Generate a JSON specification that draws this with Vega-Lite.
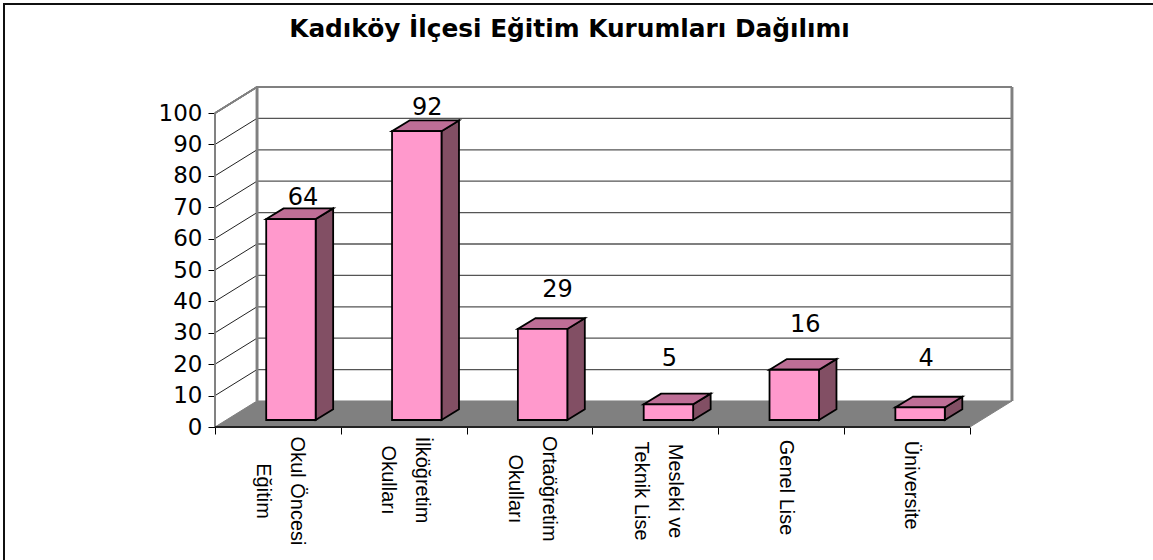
{
"$schema":"https://vega.github.io/schema/vega-lite/v6.json",
"width":797,"height":340,"autosize":"none",
"padding":{"left":215,"top":87,"right":141,"bottom":133},
"background":"white",
"view":{"stroke":null},
"config":{"axis":{"grid":false,"domain":false,"title":null,"tickColor":"black","tickSize":7,"tickWidth":1},
 "axisX":{"labels":false},
 "axisY":{"labelFont":"DejaVu Sans","labelFontSize":23,"labelColor":"black","labelPadding":6}},
"title":{"text":"Kadıköy İlçesi Eğitim Kurumları Dağılımı","font":"DejaVu Sans","fontWeight":"bold","fontSize":24.8,"color":"black","anchor":"middle","frame":"group","dx":-44,"offset":-63,"baseline":"bottom"},
"datasets":{
"bars":[
{"category":"Okul Öncesi\nEğitim","value":64,"i":0},
{"category":"İlköğretim\nOkulları","value":92,"i":1},
{"category":"Ortaöğretim\nOkulları","value":29,"i":2},
{"category":"Mesleki ve\nTeknik Lise","value":5,"i":3},
{"category":"Genel Lise","value":16,"i":4},
{"category":"Üniversite","value":4,"i":5}],
"ticks":[{"tick":10},{"tick":20},{"tick":30},{"tick":40},{"tick":50},{"tick":60},{"tick":70},{"tick":80},{"tick":90}],
"ends":[{"t":0},{"t":1}]
},
"data":{"name":"bars"},
"layer":[
{"mark":{"type":"rect","fill":null,"stroke":"#111","strokeWidth":1.5},
 "encoding":{"x":{"datum":-1.677,"type":"quantitative","scale":{"domain":[0,6.334],"nice":false,"zero":false},"axis":{"title":null,"values":[0,1,2,3,4,5,6]}},
   "x2":{"datum":7.6},
   "y":{"datum":134.7,"type":"quantitative","scale":{"domain":[0,108.29],"nice":false,"zero":false},"axis":{"title":null,"values":[0,10,20,30,40,50,60,70,80,90,100]}},
   "y2":{"datum":-50}}},
{"data":{"name":"ends"},
 "transform":[{"calculate":"datum.t*8.29","as":"fy"},{"calculate":"datum.t*0.3339","as":"fx"},{"calculate":"6+datum.t*0.3339","as":"fx2"}],
 "mark":{"type":"area","orient":"horizontal","fill":"#808080","stroke":"#808080"},
 "encoding":{"y":{"field":"fy","type":"quantitative","axis":{"title":null,"values":[0,10,20,30,40,50,60,70,80,90,100]},"scale":{"domain":[0,108.29],"nice":false,"zero":false}},
  "x":{"field":"fx","type":"quantitative","axis":{"title":null,"values":[0,1,2,3,4,5,6]},"scale":{"domain":[0,6.334],"nice":false,"zero":false}},"x2":{"field":"fx2"}}},
{"data":{"name":"ticks"},"transform":[{"calculate":"datum.tick+8.29","as":"yb"}],
 "mark":{"type":"rule","color":"#555","strokeWidth":1.3},
 "encoding":{"x":{"datum":0.3339,"type":"quantitative","axis":{"title":null,"values":[0,1,2,3,4,5,6]},"scale":{"domain":[0,6.334],"nice":false,"zero":false}},"x2":{"datum":6.3339},
  "y":{"field":"yb","type":"quantitative","axis":{"title":null,"values":[0,10,20,30,40,50,60,70,80,90,100]},"scale":{"domain":[0,108.29],"nice":false,"zero":false}}}},
{"data":{"name":"ticks"},"transform":[{"calculate":"datum.tick+8.29","as":"yb"}],
 "mark":{"type":"rule","color":"#222","strokeWidth":1},
 "encoding":{"x":{"datum":0,"type":"quantitative","axis":{"title":null,"values":[0,1,2,3,4,5,6]},"scale":{"domain":[0,6.334],"nice":false,"zero":false}},"x2":{"datum":0.3339},
  "y":{"field":"tick","type":"quantitative","axis":{"title":null,"values":[0,10,20,30,40,50,60,70,80,90,100]},"scale":{"domain":[0,108.29],"nice":false,"zero":false}},"y2":{"field":"yb"}}},
{"mark":{"type":"rule","color":"#808080","strokeWidth":2.2},
 "encoding":{"x":{"datum":0.3339,"type":"quantitative","axis":{"title":null,"values":[0,1,2,3,4,5,6]},"scale":{"domain":[0,6.334],"nice":false,"zero":false}},
  "y":{"datum":8.29,"type":"quantitative","axis":{"title":null,"values":[0,10,20,30,40,50,60,70,80,90,100]},"scale":{"domain":[0,108.29],"nice":false,"zero":false}},"y2":{"datum":108.29}}},
{"mark":{"type":"rule","color":"#808080","strokeWidth":2.2},
 "encoding":{"x":{"datum":6.3339,"type":"quantitative","axis":{"title":null,"values":[0,1,2,3,4,5,6]},"scale":{"domain":[0,6.334],"nice":false,"zero":false}},
  "y":{"datum":8.29,"type":"quantitative","axis":{"title":null,"values":[0,10,20,30,40,50,60,70,80,90,100]},"scale":{"domain":[0,108.29],"nice":false,"zero":false}},"y2":{"datum":108.29}}},
{"mark":{"type":"rule","color":"#808080","strokeWidth":2.2},
 "encoding":{"x":{"datum":0.3339,"type":"quantitative","axis":{"title":null,"values":[0,1,2,3,4,5,6]},"scale":{"domain":[0,6.334],"nice":false,"zero":false}},"x2":{"datum":6.3339},
  "y":{"datum":108.29,"type":"quantitative","axis":{"title":null,"values":[0,10,20,30,40,50,60,70,80,90,100]},"scale":{"domain":[0,108.29],"nice":false,"zero":false}}}},
{"mark":{"type":"rule","color":"#808080","strokeWidth":1.5},
 "encoding":{"x":{"datum":0,"type":"quantitative","axis":{"title":null,"values":[0,1,2,3,4,5,6]},"scale":{"domain":[0,6.334],"nice":false,"zero":false}},"x2":{"datum":0.3339},
  "y":{"datum":100,"type":"quantitative","axis":{"title":null,"values":[0,10,20,30,40,50,60,70,80,90,100]},"scale":{"domain":[0,108.29],"nice":false,"zero":false}},"y2":{"datum":108.29}}},
{"mark":{"type":"rule","color":"#808080","strokeWidth":1},
 "encoding":{"x":{"datum":0,"type":"quantitative","axis":{"title":null,"values":[0,1,2,3,4,5,6]},"scale":{"domain":[0,6.334],"nice":false,"zero":false}},
  "y":{"datum":0,"type":"quantitative","axis":{"title":null,"values":[0,10,20,30,40,50,60,70,80,90,100]},"scale":{"domain":[0,108.29],"nice":false,"zero":false}},"y2":{"datum":100}}},
{"mark":{"type":"rule","color":"#222","strokeWidth":1.2},
 "encoding":{"x":{"datum":0,"type":"quantitative","axis":{"title":null,"values":[0,1,2,3,4,5,6]},"scale":{"domain":[0,6.334],"nice":false,"zero":false}},"x2":{"datum":6},
  "y":{"datum":0,"type":"quantitative","axis":{"title":null,"values":[0,10,20,30,40,50,60,70,80,90,100]},"scale":{"domain":[0,108.29],"nice":false,"zero":false}}}},
{"transform":[{"calculate":"[0,1]","as":"t"},{"flatten":["t"]},
  {"calculate":"datum.i+0.407+0.393+datum.t*0.139","as":"sx"},
  {"calculate":"2.23+datum.t*3.4","as":"sy"},
  {"calculate":"2.23+datum.value+datum.t*3.4","as":"sy2"}],
 "mark":{"type":"area","orient":"vertical","fill":"#824F64","stroke":"black","strokeWidth":1.8,"strokeJoin":"miter"},
 "encoding":{"detail":{"field":"i"},
  "x":{"field":"sx","type":"quantitative","axis":{"title":null,"values":[0,1,2,3,4,5,6]},"scale":{"domain":[0,6.334],"nice":false,"zero":false}},
  "y":{"field":"sy","type":"quantitative","axis":{"title":null,"values":[0,10,20,30,40,50,60,70,80,90,100]},"scale":{"domain":[0,108.29],"nice":false,"zero":false}},"y2":{"field":"sy2"}}},
{"transform":[{"calculate":"[0,1]","as":"t"},{"flatten":["t"]},
  {"calculate":"datum.i+0.407+datum.t*0.139","as":"tx"},
  {"calculate":"datum.i+0.8+datum.t*0.139","as":"tx2"},
  {"calculate":"2.23+datum.value+datum.t*3.4","as":"ty"}],
 "mark":{"type":"area","orient":"horizontal","fill":"#BE6E96","stroke":"black","strokeWidth":1.8,"strokeJoin":"miter"},
 "encoding":{"detail":{"field":"i"},
  "y":{"field":"ty","type":"quantitative","axis":{"title":null,"values":[0,10,20,30,40,50,60,70,80,90,100]},"scale":{"domain":[0,108.29],"nice":false,"zero":false}},
  "x":{"field":"tx","type":"quantitative","axis":{"title":null,"values":[0,1,2,3,4,5,6]},"scale":{"domain":[0,6.334],"nice":false,"zero":false}},"x2":{"field":"tx2"}}},
{"transform":[{"calculate":"datum.i+0.407","as":"fx"},{"calculate":"datum.i+0.8","as":"fx2"},{"calculate":"2.23","as":"fy"},{"calculate":"2.23+datum.value","as":"fy2"}],
 "mark":{"type":"rect","fill":"#FF99CC","stroke":"black","strokeWidth":1.8},
 "encoding":{"x":{"field":"fx","type":"quantitative","axis":{"title":null,"values":[0,1,2,3,4,5,6]},"scale":{"domain":[0,6.334],"nice":false,"zero":false}},"x2":{"field":"fx2"},
  "y":{"field":"fy","type":"quantitative","axis":{"title":null,"values":[0,10,20,30,40,50,60,70,80,90,100]},"scale":{"domain":[0,108.29],"nice":false,"zero":false}},"y2":{"field":"fy2"}}},
{"transform":[
  {"calculate":"datum.i+0.6035+[0.095,0.083,0.119,0.008,0.087,0.048][datum.i]","as":"lx"},
  {"calculate":"2.23+datum.value+[6.7,7.3,12.4,14.4,14.3,15.4][datum.i]","as":"ly"}],
 "mark":{"type":"text","font":"DejaVu Sans","fontSize":24,"color":"black","align":"center","baseline":"middle"},
 "encoding":{"text":{"field":"value","type":"quantitative"},
  "x":{"field":"lx","type":"quantitative","axis":{"title":null,"values":[0,1,2,3,4,5,6]},"scale":{"domain":[0,6.334],"nice":false,"zero":false}},
  "y":{"field":"ly","type":"quantitative","axis":{"title":null,"values":[0,10,20,30,40,50,60,70,80,90,100]},"scale":{"domain":[0,108.29],"nice":false,"zero":false}}}},
{"transform":[
  {"calculate":"datum.i+[0.653,0.647,0.651,0.656,0.54,0.535][datum.i]","as":"cx"},
  {"calculate":"[-20.4,-16.9,-19.7,-20.4,-19.3,-18.5][datum.i]","as":"cy"}],
 "mark":{"type":"text","font":"Liberation Sans","fontSize":20,"color":"black","align":"center","baseline":"middle","angle":90,"lineBreak":"\n","lineHeight":34},
 "encoding":{"text":{"field":"category","type":"nominal"},
  "x":{"field":"cx","type":"quantitative","axis":{"title":null,"values":[0,1,2,3,4,5,6]},"scale":{"domain":[0,6.334],"nice":false,"zero":false}},
  "y":{"field":"cy","type":"quantitative","axis":{"title":null,"values":[0,10,20,30,40,50,60,70,80,90,100]},"scale":{"domain":[0,108.29],"nice":false,"zero":false}}}}
]
}
